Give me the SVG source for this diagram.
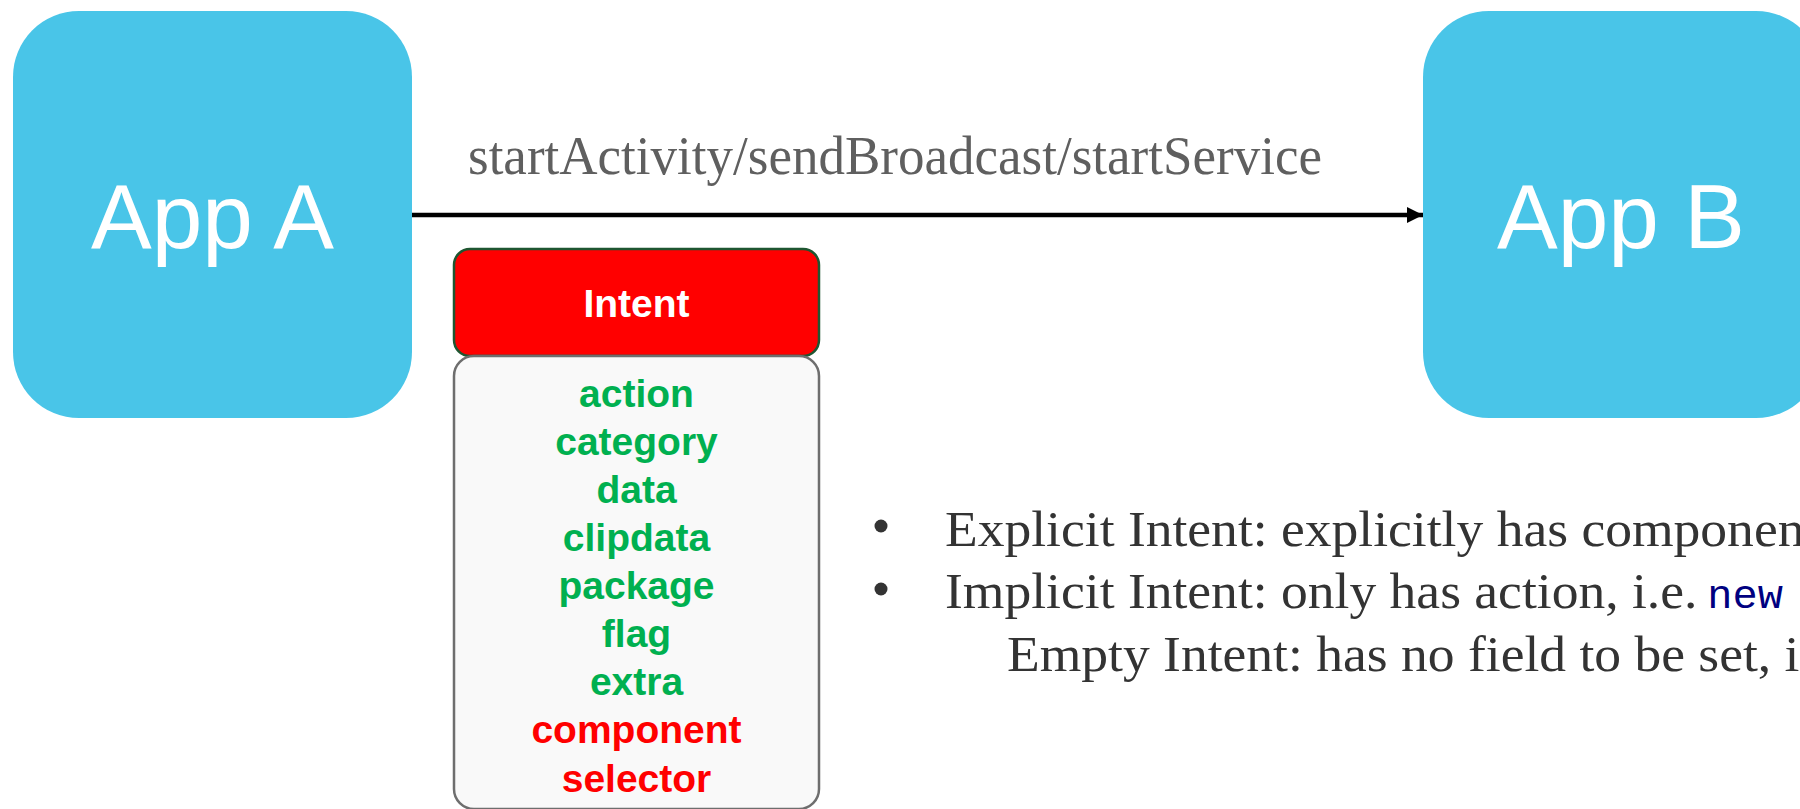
<svg xmlns="http://www.w3.org/2000/svg" width="1800" height="809" viewBox="0 0 1800 809">
<defs>
<style>
.app{fill:#49C5E8;}
.appt{font-family:"Liberation Sans",Arial,sans-serif;font-size:91px;fill:#ffffff;text-anchor:middle;}
.lbl{font-family:"Liberation Serif","Times New Roman",serif;font-size:55px;fill:#5f5f5f;}
.fld{font-family:"Liberation Sans",Arial,sans-serif;font-weight:bold;font-size:39px;text-anchor:middle;}
.g{fill:#00B050;}
.r{fill:#FF0000;}
.bul{font-family:"Liberation Serif","Times New Roman",serif;font-size:51px;fill:#333333;}
.code{font-family:"Liberation Mono","Courier New",monospace;font-size:40px;fill:#000080;}
</style>
<marker id="ah" viewBox="0 0 16 16" refX="16" refY="8" markerWidth="16" markerHeight="16" markerUnits="userSpaceOnUse" orient="auto">
<path d="M0,0 L16,8 L0,16 Z" fill="#000000"/>
</marker>
</defs>
<rect width="1800" height="809" fill="#ffffff"/>
<g id="appA">
<rect class="app" x="13" y="11" width="399" height="407" rx="66" ry="66"/>
<text class="appt" x="212.5" y="248">App A</text>
</g>
<g id="appB">
<rect class="app" x="1423" y="11" width="399" height="407" rx="66" ry="66"/>
<text class="appt" x="1621" y="248">App B</text>
</g>
<g id="connectors">
<line x1="412" y1="215" x2="1423" y2="215" stroke="#000000" stroke-width="4.5" marker-end="url(#ah)"/>
<text class="lbl" x="468" y="174" textLength="854" lengthAdjust="spacingAndGlyphs">startActivity/sendBroadcast/startService</text>
</g>
<g id="intent-header">
<rect x="454" y="249" width="365" height="107" rx="16" ry="16" fill="#FF0000" stroke="#1E5631" stroke-width="2.5"/>
<text class="fld" x="636.5" y="317" fill="#ffffff">Intent</text>
</g>
<g id="intent-fields">
<rect x="454" y="356" width="365" height="453" rx="20" ry="20" fill="#F9F9F9" stroke="#6E6E6E" stroke-width="2.5"/>
<text class="fld g" x="636.5" y="407">action</text>
<text class="fld g" x="636.5" y="455">category</text>
<text class="fld g" x="636.5" y="503">data</text>
<text class="fld g" x="636.5" y="551">clipdata</text>
<text class="fld g" x="636.5" y="599">package</text>
<text class="fld g" x="636.5" y="647">flag</text>
<text class="fld g" x="636.5" y="695">extra</text>
<text class="fld r" x="636.5" y="743">component</text>
<text class="fld r" x="636.5" y="792">selector</text>
</g>
<g id="notes">
<circle cx="881" cy="526" r="6.5" fill="#333333"/>
<circle cx="881" cy="589" r="6.5" fill="#333333"/>
<g transform="scale(1.05,1)">
<text class="bul" x="900" y="546">Explicit Intent: explicitly has component</text>
<text class="bul" x="900" y="608">Implicit Intent: only has action, i.e. <tspan class="code" x="1626">new</tspan></text>
<text class="bul" x="959" y="671">Empty Intent: has no field to be set, i.e.</text>
</g>
</g>
</svg>
